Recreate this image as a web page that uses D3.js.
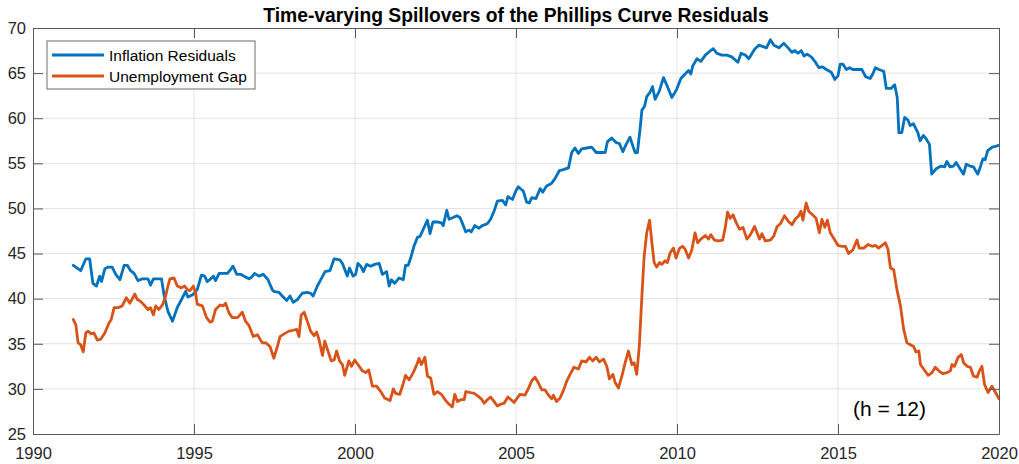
<!DOCTYPE html>
<html>
<head>
<meta charset="utf-8">
<script src="https://cdn.jsdelivr.net/npm/d3@7"></script>
<style>
  html, body { margin: 0; padding: 0; background: #fff; }
  svg { display: block; font-family: "Liberation Sans", Arial, Helvetica, sans-serif; }
</style>
</head>
<body>
<div id="chart"></div>
<script>
// --- data ---
const chartTitle = "Time-varying Spillovers of the Phillips Curve Residuals";
const seriesNames = ["Inflation Residuals", "Unemployment Gap"];
const xTicks = [1990, 1995, 2000, 2005, 2010, 2015, 2020];
const yTicks = [25, 30, 35, 40, 45, 50, 55, 60, 65, 70];
const noteText = "(h = 12)";

const inflationYears = [
  1991.25,1991.48,1991.64,1991.76,1991.86,1991.97,1992.07,1992.13,1992.23,1992.33,1992.46,1992.57,1992.70,1992.83,1992.93,
  1993.03,1993.14,1993.26,1993.40,1993.57,1993.65,1993.74,1993.86,1993.99,1994.07,1994.19,1994.33,1994.48,1994.64,1994.74,
  1994.81,1994.95,1995.10,1995.23,1995.33,1995.41,1995.52,1995.60,1995.67,1995.78,1995.91,1996.04,1996.11,1996.21,1996.33,
  1996.45,1996.60,1996.71,1996.79,1996.88,1997.02,1997.15,1997.30,1997.43,1997.48,1997.64,1997.74,1997.88,1997.98,1998.08,
  1998.21,1998.36,1998.52,1998.62,1998.70,1998.83,1998.95,1999.07,1999.22,1999.35,1999.53,1999.61,1999.76,1999.83,1999.94,
  2000.02,2000.09,2000.18,2000.26,2000.36,2000.49,2000.61,2000.75,2000.85,2000.98,2001.06,2001.13,2001.23,2001.37,2001.50,
  2001.57,2001.65,2001.73,2001.83,2001.94,2002.02,2002.12,2002.25,2002.33,2002.42,2002.56,2002.68,2002.74,2002.85,2002.92,
  2003.05,2003.16,2003.26,2003.33,2003.44,2003.54,2003.61,2003.72,2003.85,2003.95,2004.11,2004.21,2004.32,2004.42,2004.58,
  2004.68,2004.75,2004.89,2004.99,2005.07,2005.23,2005.33,2005.41,2005.49,2005.62,2005.75,2005.83,2005.95,2006.11,2006.21,
  2006.35,2006.47,2006.63,2006.73,2006.83,2006.94,2007.04,2007.20,2007.35,2007.49,2007.63,2007.77,2007.84,2007.97,2008.11,
  2008.21,2008.32,2008.42,2008.54,2008.63,2008.70,2008.77,2008.85,2008.91,2008.99,2009.06,2009.15,2009.24,2009.32,2009.45,
  2009.58,2009.68,2009.84,2009.99,2010.12,2010.25,2010.36,2010.43,2010.49,2010.62,2010.74,2010.88,2011.01,2011.13,2011.24,
  2011.39,2011.55,2011.70,2011.89,2011.99,2012.12,2012.23,2012.42,2012.55,2012.78,2012.90,2013.01,2013.17,2013.32,2013.45,
  2013.57,2013.66,2013.76,2013.86,2013.94,2014.04,2014.17,2014.28,2014.41,2014.51,2014.64,2014.79,2014.90,2015.00,2015.07,
  2015.15,2015.26,2015.36,2015.46,2015.62,2015.74,2015.86,2016.00,2016.08,2016.16,2016.27,2016.42,2016.50,2016.65,2016.76,
  2016.84,2016.89,2016.98,2017.07,2017.17,2017.24,2017.34,2017.48,2017.55,2017.65,2017.74,2017.84,2017.91,2018.05,2018.20,
  2018.31,2018.38,2018.48,2018.59,2018.67,2018.79,2018.90,2018.98,2019.10,2019.21,2019.34,2019.42,2019.50,2019.57,2019.65,
  2019.79,2019.91,2020.00
];
const inflationValues = [
  43.7,43.1,44.4,44.4,41.7,41.4,42.5,41.9,43.3,43.5,43.5,42.7,42.1,43.7,43.7,
  43.1,42.8,42.0,42.2,42.2,41.5,42.2,42.2,42.2,40.4,38.6,37.5,39.0,40.1,40.8,
  40.2,40.4,41.0,42.6,42.5,41.9,42.2,42.5,42.0,42.8,42.8,42.8,43.1,43.6,42.7,
  42.7,42.4,42.2,42.4,42.8,42.5,42.7,42.1,41.0,40.8,40.7,40.3,39.8,40.3,39.6,
  39.9,40.6,40.7,40.6,40.3,41.4,42.2,43.0,43.1,44.4,44.3,43.9,42.5,43.4,42.5,
  42.7,43.9,43.6,43.0,43.8,43.6,43.8,43.9,42.7,43.0,41.4,42.1,41.7,42.3,42.1,
  43.7,43.7,44.5,45.8,46.8,46.9,47.7,48.7,47.2,48.5,48.5,48.4,48.1,49.8,48.8,
  49.0,49.2,49.0,48.4,47.4,47.6,47.4,48.1,47.8,48.1,48.3,48.8,49.7,50.8,50.9,
  50.4,51.3,51.0,51.9,52.4,51.9,50.7,50.6,51.2,51.1,52.2,51.8,52.5,52.8,53.3,
  54.2,54.3,54.5,56.2,56.7,56.1,56.6,56.7,56.8,56.2,56.2,56.2,57.4,57.8,57.3,
  57.2,56.3,57.1,57.9,56.9,56.2,56.2,58.7,60.9,61.3,62.4,62.8,63.5,62.1,63.0,
  64.5,63.7,62.3,63.2,64.4,64.9,65.3,64.9,65.8,66.6,66.3,67.0,67.4,67.7,67.2,
  67.0,67.0,66.8,66.2,67.2,67.0,66.6,67.7,68.1,67.8,68.7,68.1,67.8,68.3,67.8,
  67.3,67.5,67.2,67.5,66.9,67.1,66.8,66.3,65.6,65.7,65.4,65.1,64.3,64.7,66.0,
  66.0,65.4,65.6,65.4,65.4,65.4,64.6,64.4,64.9,65.6,65.4,65.2,63.3,63.3,63.7,
  62.3,58.4,58.4,60.1,59.8,59.2,59.4,58.4,57.5,58.1,57.7,57.1,53.8,54.4,54.7,
  54.6,55.2,54.6,54.7,55.1,54.4,53.8,54.9,54.7,54.6,53.8,54.6,55.5,55.4,56.4,
  56.8,56.9,57.0
];

const gapYears = [
  1991.25,1991.33,1991.40,1991.48,1991.56,1991.64,1991.71,1991.81,1991.89,1992.00,1992.10,1992.23,1992.36,1992.43,1992.52,
  1992.64,1992.77,1992.90,1993.01,1993.16,1993.24,1993.34,1993.45,1993.57,1993.65,1993.74,1993.81,1993.91,1994.02,1994.12,
  1994.19,1994.25,1994.38,1994.48,1994.61,1994.71,1994.79,1994.88,1994.98,1995.05,1995.10,1995.26,1995.39,1995.50,1995.57,
  1995.67,1995.81,1995.91,1995.98,1996.09,1996.19,1996.35,1996.50,1996.60,1996.71,1996.84,1996.97,1997.12,1997.23,1997.36,
  1997.48,1997.59,1997.67,1997.80,1997.95,1998.08,1998.19,1998.26,1998.33,1998.42,1998.52,1998.62,1998.73,1998.81,1998.88,
  1998.99,1999.06,1999.16,1999.26,1999.35,1999.43,1999.52,1999.61,1999.68,1999.81,1999.89,1999.99,2000.09,2000.23,2000.33,
  2000.43,2000.54,2000.67,2000.80,2000.92,2001.09,2001.19,2001.26,2001.39,2001.50,2001.57,2001.68,2001.81,2001.92,2001.99,
  2002.06,2002.17,2002.25,2002.35,2002.45,2002.56,2002.68,2002.82,2002.92,2003.02,2003.10,2003.18,2003.28,2003.39,2003.44,
  2003.57,2003.70,2003.82,2003.92,2004.01,2004.11,2004.21,2004.34,2004.42,2004.52,2004.63,2004.75,2004.85,2004.94,2005.02,
  2005.12,2005.28,2005.38,2005.49,2005.59,2005.69,2005.80,2005.90,2006.01,2006.11,2006.16,2006.26,2006.37,2006.47,2006.58,
  2006.68,2006.80,2006.94,2007.04,2007.18,2007.28,2007.38,2007.49,2007.59,2007.72,2007.82,2007.90,2008.01,2008.08,2008.18,
  2008.28,2008.39,2008.49,2008.60,2008.67,2008.75,2008.83,2008.91,2008.98,2009.06,2009.15,2009.22,2009.29,2009.37,2009.46,
  2009.53,2009.63,2009.70,2009.79,2009.89,2009.97,2010.08,2010.18,2010.25,2010.36,2010.46,2010.56,2010.64,2010.74,2010.88,
  2010.98,2011.05,2011.16,2011.29,2011.42,2011.50,2011.57,2011.65,2011.74,2011.84,2011.94,2012.05,2012.17,2012.28,2012.41,
  2012.56,2012.64,2012.74,2012.90,2013.00,2013.11,2013.21,2013.34,2013.45,2013.57,2013.67,2013.78,2013.85,2013.91,2014.01,
  2014.09,2014.21,2014.32,2014.42,2014.50,2014.59,2014.67,2014.76,2014.90,2015.00,2015.12,2015.23,2015.33,2015.46,2015.59,
  2015.66,2015.80,2015.93,2016.06,2016.16,2016.26,2016.37,2016.47,2016.55,2016.63,2016.73,2016.83,2016.94,2017.04,2017.14,
  2017.25,2017.35,2017.42,2017.51,2017.56,2017.66,2017.80,2017.92,2018.02,2018.13,2018.25,2018.39,2018.49,2018.54,2018.62,
  2018.73,2018.83,2018.90,2019.01,2019.11,2019.21,2019.32,2019.39,2019.47,2019.55,2019.66,2019.78,2019.89,2020.00
];
const gapValues = [
  37.7,37.1,35.1,34.9,34.1,36.2,36.4,36.1,36.2,35.4,35.5,36.2,37.3,37.7,39.0,
  39.0,39.2,40.1,39.5,40.5,39.9,39.7,39.3,38.8,39.0,38.2,39.2,38.8,39.3,40.3,
  41.4,42.2,42.3,41.4,41.2,41.4,41.0,40.9,41.4,40.6,39.4,39.2,37.9,37.4,37.5,
  38.8,39.3,39.2,39.5,38.4,37.9,37.9,38.5,37.5,37.0,35.8,36.0,35.1,35.1,34.7,
  33.4,34.7,35.8,36.1,36.4,36.5,36.6,35.8,38.2,38.5,37.5,36.4,35.9,36.3,35.5,
  33.7,35.3,34.2,33.1,33.2,34.2,33.1,32.7,31.5,33.1,32.5,33.2,32.7,32.0,31.8,
  32.1,30.3,30.3,29.7,29.0,28.7,30.0,29.5,29.4,30.6,31.5,31.0,31.8,32.7,33.4,
  32.7,33.5,31.4,31.2,29.4,29.7,29.4,28.7,28.3,28.0,29.4,28.6,28.8,28.8,29.7,
  29.6,29.5,29.2,28.9,28.4,28.8,29.1,28.5,28.1,28.3,28.4,29.1,28.8,28.5,28.9,
  29.4,29.3,30.0,30.9,31.3,30.7,29.9,29.9,29.3,28.9,29.3,28.6,29.0,29.8,30.9,
  31.6,32.4,32.2,33.1,33.0,33.5,33.1,33.5,33.0,33.3,32.5,31.1,31.6,30.7,30.1,
  31.3,32.9,34.2,32.7,32.9,31.6,34.8,40.3,44.7,47.3,48.7,46.2,44.0,43.5,44.0,
  43.8,44.2,44.0,45.1,45.6,44.5,45.6,45.8,45.5,44.5,45.4,47.3,46.2,46.6,47.0,
  46.6,47.1,46.5,46.4,46.5,47.9,49.6,48.9,49.3,48.4,47.7,47.9,46.6,47.1,48.0,
  46.6,47.2,46.4,46.5,46.9,48.0,48.3,49.2,48.6,48.2,48.8,49.2,49.7,48.7,50.6,
  49.7,49.3,48.9,47.3,48.8,47.9,48.7,47.3,46.5,45.9,45.8,45.8,45.0,45.4,46.5,
  45.6,45.6,46.0,45.8,45.9,45.6,45.9,46.2,45.5,43.4,43.2,41.0,39.2,36.6,35.1,
  34.9,34.7,34.1,34.2,32.7,32.2,31.5,31.8,32.4,32.0,31.7,31.8,32.0,32.7,32.5,
  33.5,33.8,32.9,32.5,32.4,31.4,31.3,32.0,32.5,30.5,29.6,30.3,29.6,28.9
];

const seriesColors = ["#0072BD", "#D95319"];

function drawChart() {
    const W = 1019, H = 464;
    const margin = {top: 28, right: 20, bottom: 30, left: 33},
          width = 999 - margin.left,
          height = 434 - margin.top;

    const svg = d3.select("#chart").append("svg")
        .attr("width", W)
        .attr("height", H);

    const g = svg.append("g")
        .attr("transform", `translate(${margin.left},${margin.top})`);

    const x = d3.scaleLinear().domain([1990, 2020]).range([0, width]);
    const y = d3.scaleLinear().domain([25, 70]).range([height, 0]);

    // grid
    const grid = g.append("g").attr("class", "grid");
    grid.selectAll(".gx").data(xTicks.slice(1, -1)).enter().append("line")
        .attr("x1", d => x(d)).attr("x2", d => x(d))
        .attr("y1", 0).attr("y2", height)
        .attr("stroke", "#e3e3e3").attr("stroke-width", 1);
    grid.selectAll(".gy").data(yTicks.slice(1, -1)).enter().append("line")
        .attr("y1", d => y(d)).attr("y2", d => y(d))
        .attr("x1", 0).attr("x2", width)
        .attr("stroke", "#e3e3e3").attr("stroke-width", 1);

    // lines
    g.append("clipPath").attr("id", "plot-clip")
        .append("rect").attr("width", width).attr("height", height);

    const series = [
        {name: seriesNames[0], years: inflationYears, values: inflationValues, color: seriesColors[0]},
        {name: seriesNames[1], years: gapYears, values: gapValues, color: seriesColors[1]}
    ];

    const line = d3.line()
        .x(d => x(d[0]))
        .y(d => y(d[1]));

    series.forEach(s => {
        const pts = s.years.map((yr, i) => [yr, s.values[i]]);
        g.append("path")
            .datum(pts)
            .attr("clip-path", "url(#plot-clip)")
            .attr("fill", "none")
            .attr("stroke", s.color)
            .attr("stroke-width", 2.8)
            .attr("stroke-linejoin", "round")
            .attr("stroke-linecap", "round")
            .attr("d", line);
    });

    // axes (MATLAB style: ticks inside, box on)
    const axisColor = "#5a5a5a";
    const tickLen = 10;
    const styleAxis = sel => {
        sel.select(".domain").attr("stroke", axisColor);
        sel.selectAll(".tick line").attr("stroke", axisColor);
        sel.selectAll(".tick text")
            .attr("fill", "#262626")
            .style("font-size", "16.5px");
    };

    g.append("g")
        .attr("transform", `translate(0,${height})`)
        .call(d3.axisBottom(x).tickValues(xTicks).tickFormat(d3.format("d"))
            .tickSize(-tickLen).tickSizeOuter(0).tickPadding(13))
        .call(styleAxis);

    g.append("g")
        .call(d3.axisTop(x).tickValues(xTicks).tickFormat("")
            .tickSize(-tickLen).tickSizeOuter(0))
        .call(styleAxis);

    g.append("g")
        .call(d3.axisLeft(y).tickValues(yTicks).tickFormat(d3.format("d"))
            .tickSize(-tickLen).tickSizeOuter(0).tickPadding(7))
        .call(styleAxis);

    g.append("g")
        .attr("transform", `translate(${width},0)`)
        .call(d3.axisRight(y).tickValues(yTicks).tickFormat("")
            .tickSize(-tickLen).tickSizeOuter(0))
        .call(styleAxis);

    g.selectAll(".domain").attr("stroke-width", 1);

    // title
    svg.append("text")
        .attr("x", margin.left + width / 2)
        .attr("y", 22)
        .attr("text-anchor", "middle")
        .style("font-size", "19.3px")
        .style("font-weight", "bold")
        .style("fill", "#000")
        .text(chartTitle);

    // annotation
    g.append("text")
        .attr("x", x(2016.6))
        .attr("y", y(27.0))
        .attr("text-anchor", "middle")
        .style("font-size", "21px")
        .style("fill", "#000")
        .text(noteText);

    // legend
    const legend = g.append("g").attr("transform", "translate(14,13)");
    legend.append("rect")
        .attr("width", 208).attr("height", 48)
        .attr("fill", "#fff")
        .attr("stroke", "#6a6a6a")
        .attr("stroke-width", 1);

    series.forEach((s, i) => {
        const item = legend.append("g").attr("transform", `translate(0,${14 + i * 21})`);
        item.append("line")
            .attr("x1", 5).attr("x2", 57)
            .attr("y1", 0).attr("y2", 0)
            .attr("stroke", s.color)
            .attr("stroke-width", 3);
        item.append("text")
            .attr("x", 62).attr("y", 6)
            .style("font-size", "15.5px")
            .style("fill", "#000")
            .text(s.name);
    });
}

drawChart();
</script>
</body>
</html>
